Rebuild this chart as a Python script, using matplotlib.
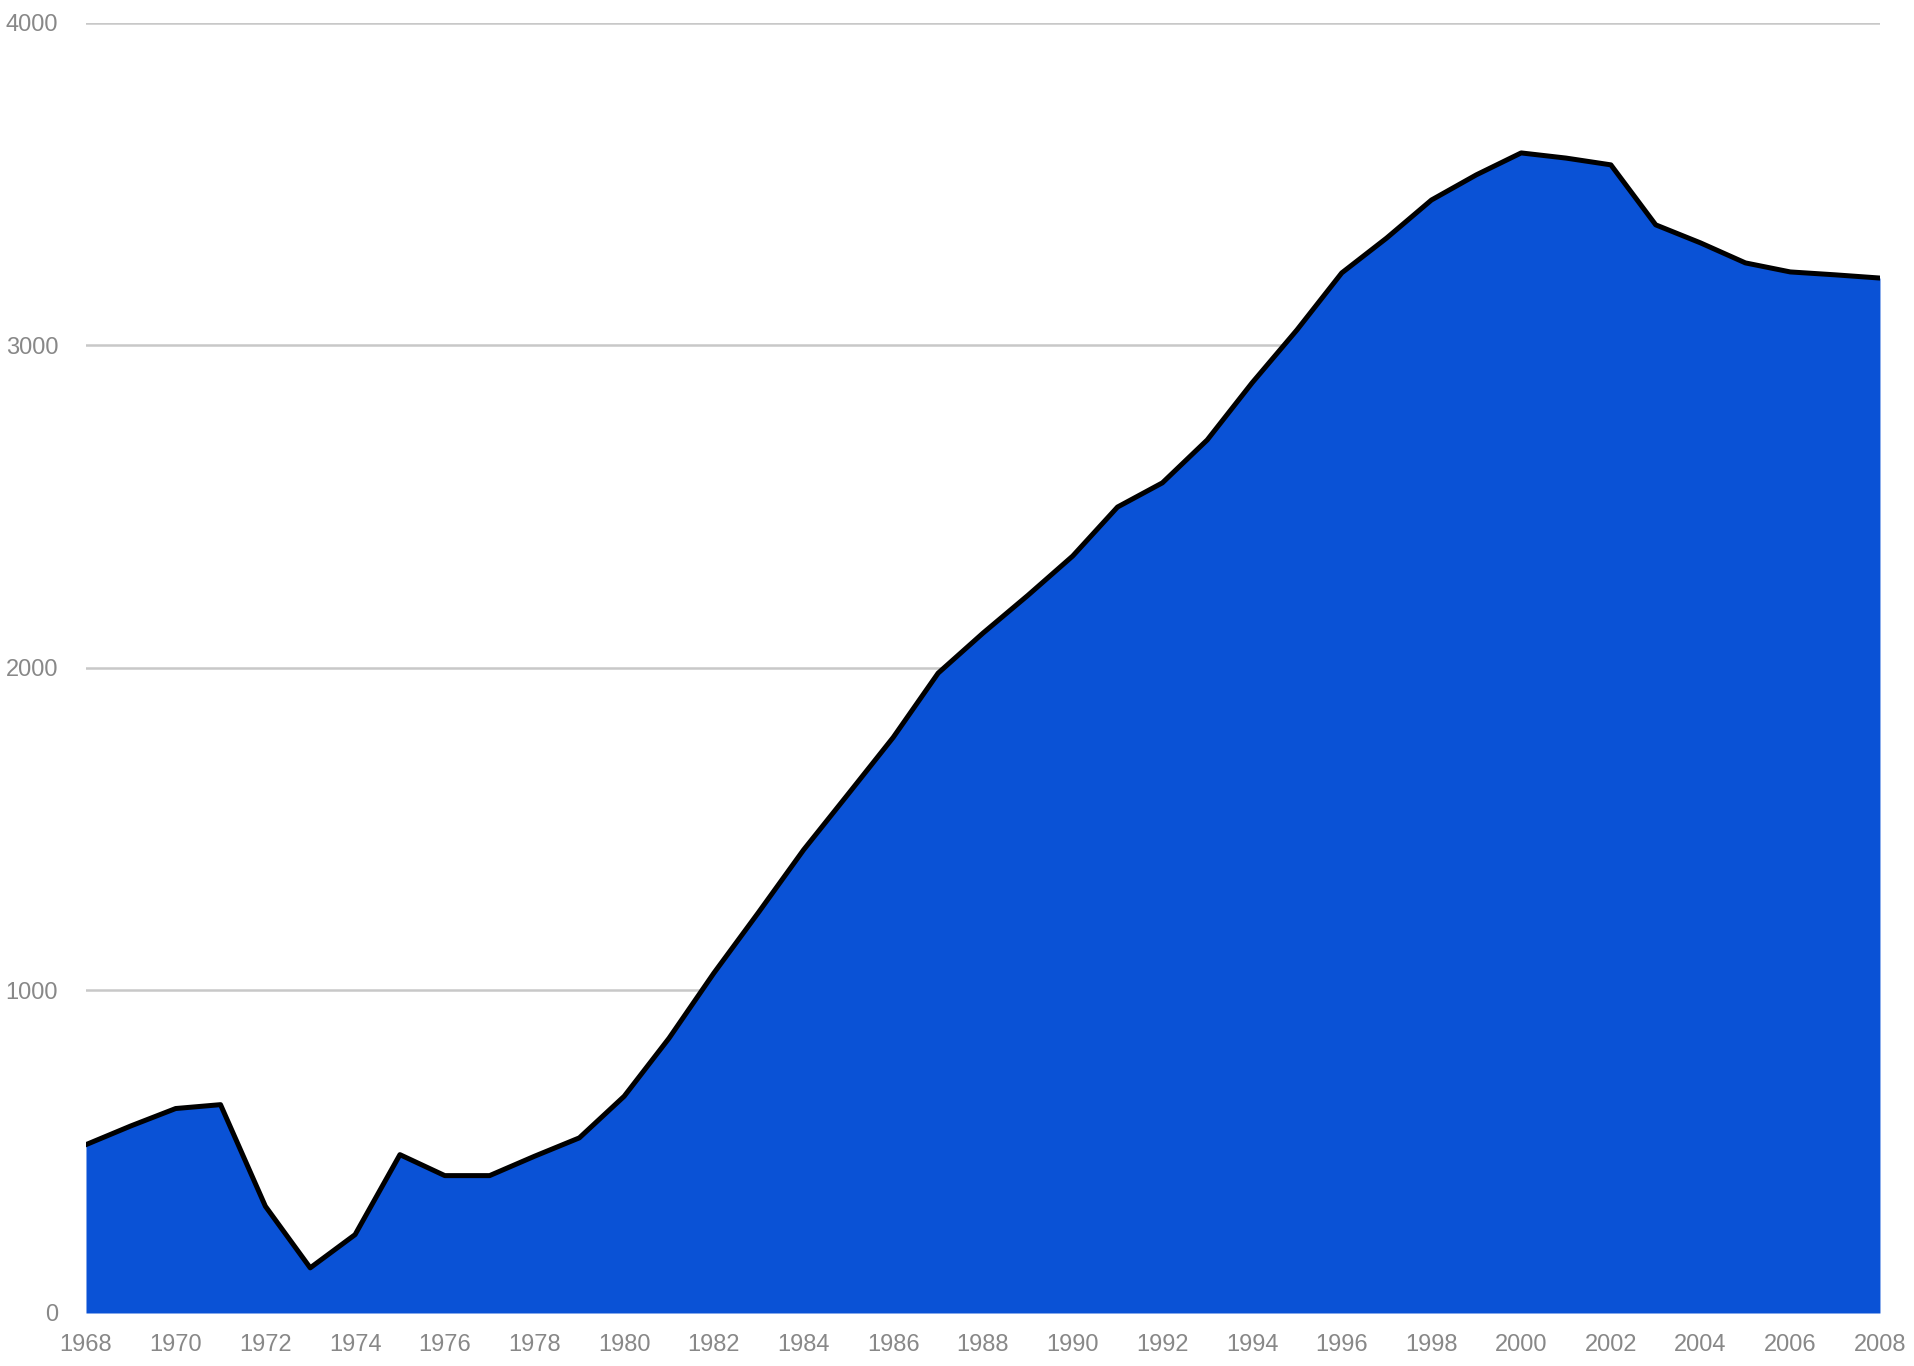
import numpy as np
import matplotlib.pyplot as plt

years = list(range(1968, 2009))
values = [522, 580, 634, 646, 331, 140, 243, 491, 426, 426,
          486, 543, 672, 852, 1054, 1243, 1436, 1610, 1785, 1984,
          2108, 2225, 2347, 2499, 2574, 2707, 2884, 3048, 3225, 3333,
          3451, 3529, 3597, 3581, 3560, 3374, 3318, 3256, 3228, 3219,
          3209]
xticks = list(range(1968, 2009, 2))
yticks = [0, 1000, 2000, 3000, 4000]

plt.rcParams['font.family'] = ['Liberation Sans', 'DejaVu Sans']

fig = plt.figure(figsize=(19.15, 13.66), dpi=100)
ax = fig.add_axes([0.0449, 0.0388, 0.9368, 0.9444])

x = np.array(years)
y = np.array(values)

# grid behind the area
for g in yticks[1:]:
    ax.axhline(g, color='#c8c8c8', lw=1.8, zorder=0)

ax.fill_between(x, 0, y, color='#0a52d6', lw=0, zorder=2)
ax.plot(x, y, color='black', lw=3.6, solid_joinstyle='round', zorder=3)

ax.set_xlim(1968, 2008)
ax.set_ylim(0, 4000)
ax.set_xticks(xticks)
ax.set_yticks(yticks)
ax.tick_params(axis='x', length=0, pad=15, labelsize=17, labelcolor='#888888')
ax.tick_params(axis='y', length=0, pad=20, labelsize=17, labelcolor='#888888')
for s in ax.spines.values():
    s.set_visible(False)

fig.savefig('out.png', dpi=100, facecolor='white')
